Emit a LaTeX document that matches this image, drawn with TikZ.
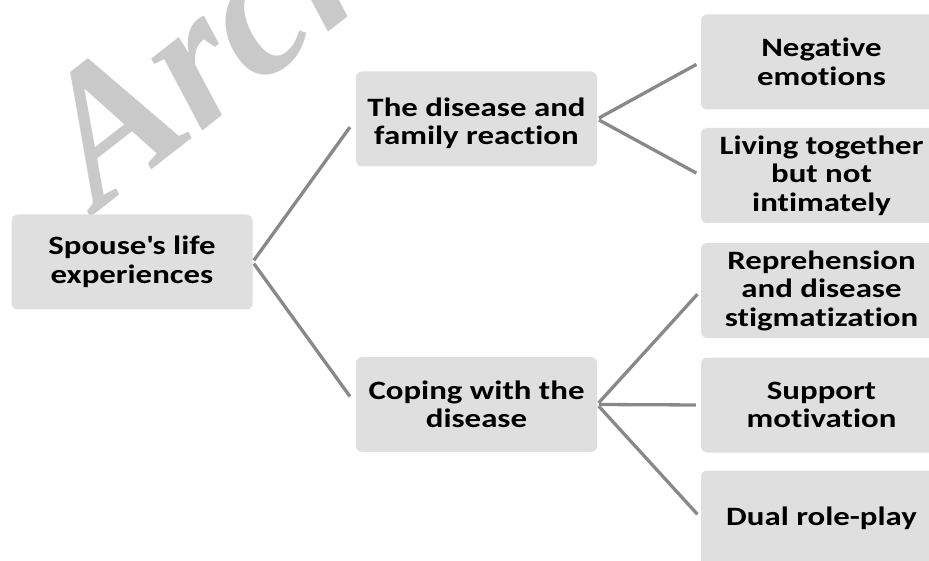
\documentclass[tikz,border=0pt]{standalone}
\usepackage{fontspec}
\setmainfont{Carlito}
\newfontfamily\boxfont[FakeStretch=1.24,Ligatures=NoCommon]{Carlito}
\newfontfamily\markfont{Liberation Serif}
\usepackage{tikz}

\definecolor{boxgray}{RGB}{223,223,223}
\definecolor{linegray}{RGB}{137,137,137}
\definecolor{markgray}{RGB}{201,201,201}

\begin{document}
\begin{tikzpicture}[x=1pt,y=1pt,
  box/.style={fill=boxgray,rounded corners=6pt,minimum width=241pt,minimum height=95pt,
    inner sep=0pt,align=center,font=\boxfont\bfseries\fontsize{26.5}{28.5}\selectfont},
  link/.style={draw=linegray,line width=3.3pt,shorten <=2pt,shorten >=5pt}]
\useasboundingbox (0,0) rectangle (929,-561);
\clip (0,0) rectangle (929,-561);
% watermark
\node[rotate=38,anchor=base west,inner sep=0pt,text=markgray,
  font=\markfont\bfseries\itshape\fontsize{192}{192}\selectfont] (mark) at (98,-212) {Archive};
% boxes
\node[box] (root) at (132,-262) {Spouse\textquotesingle s life\\experiences};
\node[box] (react) at (476.5,-119) {\rule{0pt}{27pt}The disease and\\family reaction};
\node[box] (cope) at (476.5,-404.5) {Coping with the\\disease};
\node[box] (neg) at (821.5,-62) {Negative\\emotions};
\node[box] (live) at (821.5,-175.5) {Living together\\but not\\intimately};
\node[box] (stig) at (821.5,-290.5) {Reprehension\\and disease\\stigmatization};
\node[box] (supp) at (821.5,-405) {Support\\motivation};
\node[box] (dual) at (821.5,-518) {Dual role-play};
% connectors
\draw[link,shorten >=10pt] (root.east) -- (react.west);
\draw[link,shorten >=10pt] (root.east) -- (cope.west);
\draw[link] (react.east) -- (neg.west);
\draw[link] (react.east) -- (live.west);
\draw[link] (cope.east) -- (stig.west);
\draw[link] (cope.east) -- (supp.west);
\draw[link] (cope.east) -- (dual.west);
\end{tikzpicture}
\end{document}
